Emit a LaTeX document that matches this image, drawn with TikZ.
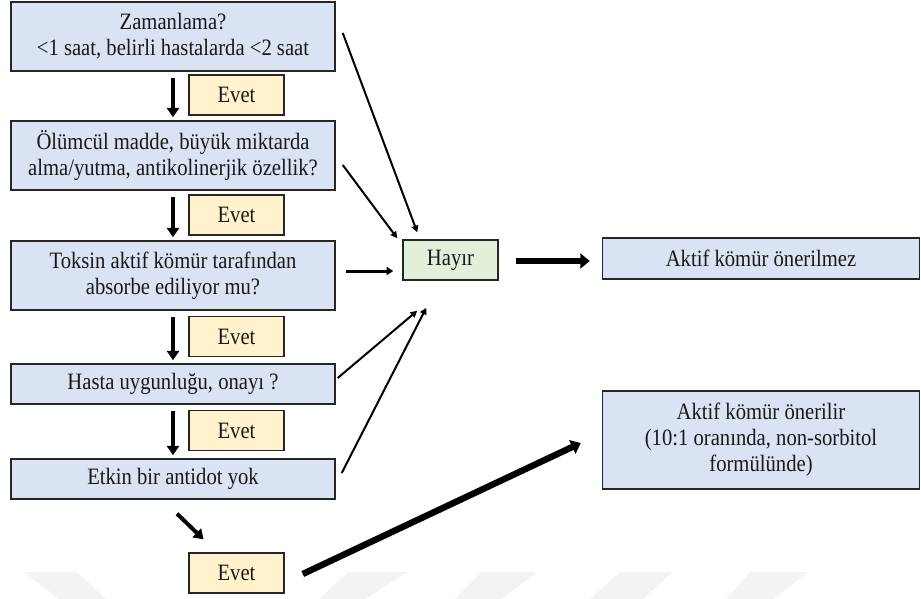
\documentclass[tikz,border=0pt]{standalone}
\usepackage{fontspec}
\setmainfont{Liberation Serif}[FakeStretch=0.88]
\usetikzlibrary{arrows.meta,calc}
\definecolor{boxblue}{HTML}{DAE3F3}
\definecolor{boxyellow}{HTML}{FFF2CC}
\definecolor{boxgreen}{HTML}{E2F0D9}
\definecolor{wm}{HTML}{F3F3F3}
\tikzset{
  base/.style={draw=black!85, line width=1.1pt, inner sep=2pt, align=center,
    font=\fontsize{17.6}{19.5}\selectfont, text=black!90},
  qbox/.style={base, fill=boxblue, minimum width=243pt},
  evetbox/.style={base, fill=boxyellow, minimum width=71.25pt, minimum height=30pt},
  hayirbox/.style={base, fill=boxgreen, minimum width=71.25pt, minimum height=30pt},
  resbox/.style={base, fill=boxblue, minimum width=237.75pt},
  downarr/.style={line width=3pt, -{Triangle[width=9pt,length=7pt]}},
  thinarr/.style={line width=1.5pt, -{Triangle[width=5pt,length=5pt]}},
  thickarr/.style={line width=4.5pt, -{Triangle[width=11pt,length=7pt]}},
  wmark/.style={fill=wm, draw=none}
}
\begin{document}
\begin{tikzpicture}[x=0.75pt,y=-0.75pt]
\useasboundingbox (0,0) rectangle (921,599);
% faint watermark
\fill[wmark] (24,572) -- (77,572) -- (106,599) -- (59,599) -- cycle;
\fill[wmark] (348,572) -- (407,572) -- (366,599) -- (319,599) -- cycle;
\fill[wmark] (481,572) -- (537,572) -- (502,599) -- (455,599) -- cycle;
\fill[wmark] (620,572) -- (673,572) -- (643,599) -- (590,599) -- cycle;
\fill[wmark] (750,572) -- (809,572) -- (773,599) -- (726,599) -- cycle;

% question boxes
\node[qbox, minimum height=51.75pt] (q1) at (173,36.5) {Zamanlama?\\<1 saat, belirli hastalarda <2 saat};
\node[qbox, minimum height=51.75pt] (q2) at (173,155.5) {Ölümcül madde, büyük miktarda\\alma/yutma, antikolinerjik özellik?};
\node[qbox, minimum height=51.75pt] (q3) at (173,275.5) {Toksin aktif kömür tarafından\\absorbe ediliyor mu?};
\node[qbox, minimum height=30pt] (q4) at (173,384) {Hasta uygunluğu, onayı ?};
\node[qbox, minimum height=30pt] (q5) at (173,479) {Etkin bir antidot yok};

% Evet boxes
\node[evetbox] (e1) at (236.5,95) {Evet};
\node[evetbox] (e2) at (236.5,215) {Evet};
\node[evetbox] (e3) at (236.5,336.5) {Evet};
\node[evetbox] (e4) at (236.5,430.5) {Evet};
\node[evetbox] (e5) at (236.5,573) {Evet};

% Hayır and results
\node[hayirbox] (h) at (450.5,260) {Hayır};
\node[resbox, minimum height=30.75pt] (r1) at (761,258.5) {Aktif kömür önerilmez};
\node[resbox, minimum height=73.5pt] (r2) at (761,440) {Aktif kömür önerilir\\(10:1 oranında, non-sorbitol\\formülünde)};

% down arrows
\draw[downarr] ($(q1.south)+(0,6)$) -- ($(q2.north)+(0,-3)$);
\draw[downarr] ($(q2.south)+(0,6)$) -- ($(q3.north)+(0,-3)$);
\draw[downarr] ($(q3.south)+(0,6)$) -- ($(q4.north)+(0,-3)$);
\draw[downarr] ($(q4.south)+(0,6)$) -- ($(q5.north)+(0,-3)$);
\draw[downarr] ($(q5.south)+(4,14)$) -- ($(e5.north)+(-33,-13)$);

% arrows to Hayır
\draw[thinarr] ($(q1.east)+(7,-3.5)$) -- ($(h.north west)+(15,-7)$);
\draw[thinarr] ($(q2.east)+(7,9.5)$) -- ($(h.north west)+(-5,-1)$);
\draw[line width=2.25pt, -{Triangle[width=6pt,length=5pt]}] ($(q3.east)+(10,-4.5)$) -- ($(h.west)+(-9,11)$);
\draw[thinarr] ($(q4.east)+(2,-6)$) -- ($(h.south west)+(15,30)$);
\draw[thinarr] ($(q5.east)+(6,-6)$) -- ($(h.south west)+(24,27)$);

% result arrows
\draw[thickarr] ($(h.east)+(17,1)$) -- ($(r1.west)+(-12,2.5)$);
\draw[line width=4.8pt, -{Triangle[width=11pt,length=7pt]}] ($(e5.east)+(18,1)$) -- ($(r2.west)+(-21,3)$);
\end{tikzpicture}
\end{document}
